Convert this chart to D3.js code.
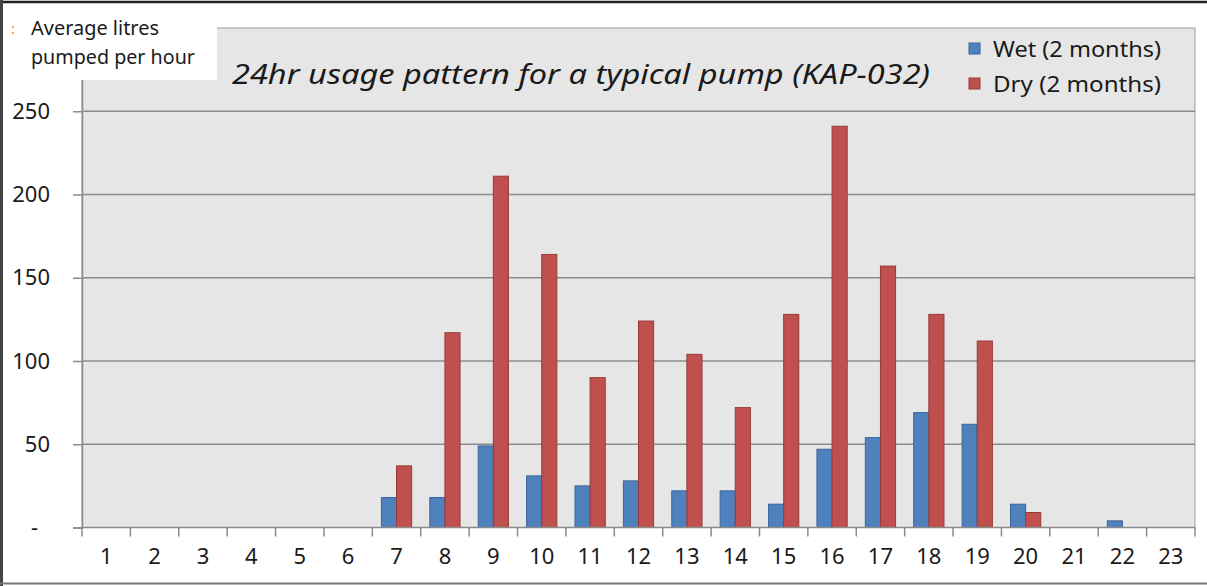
<!DOCTYPE html>
<html>
<head>
<meta charset="utf-8">
<script src="https://cdnjs.cloudflare.com/ajax/libs/d3/7.8.5/d3.min.js"></script>
<style>
  body { margin: 0; background: #fff; }
  svg { display: block; font-family: "Noto Sans", "Open Sans", sans-serif; }
</style>
</head>
<body>
<svg width="1207" height="586"></svg>
<script>
// hours of the day
var hours = ["1","2","3","4","5","6","7","8","9","10","11","12","13","14","15","16","17","18","19","20","21","22","23"];
// average litres pumped per hour
var wet = [0,0,0,0,0,0,18,18,49,31,25,28,22,22,14,47,54,69,62,14,0,4,0];
var dry = [0,0,0,0,0,0,37,117,211,164,90,124,104,72,128,241,157,128,112,9,0,0,0];
var seriesNames = ["Wet (2 months)", "Dry (2 months)"];
var seriesColors = ["#4F81BD", "#C0504D"];
var seriesBorders = ["#3A659A", "#943B39"];
var yTicks = [0, 50, 100, 150, 200, 250];

var svg = d3.select("svg"),
    pl = 82, pr = 1195, pt = 28, pb = 527.5;

var x0 = d3.scaleBand().domain(hours).range([pl, pr]).padding(0);
var bw = x0.bandwidth();
var gap = bw * 0.6 / 1.6; // excel style gap width 60%
var x1 = d3.scaleBand().domain([0, 1]).range([gap / 2, bw - gap / 2]).padding(0);
var y = d3.scaleLinear().domain([0, 300]).range([pb, pt]);

// plot background
svg.append("rect")
    .attr("x", pl).attr("y", pt)
    .attr("width", pr - pl).attr("height", pb - pt)
    .attr("fill", "#E6E6E6")
    .attr("stroke", "#9a9a9a").attr("stroke-width", 1);

// gridlines + y axis
var yAxis = d3.axisLeft(y).tickValues(yTicks).tickSize(9).tickPadding(23)
    .tickFormat(function(d) { return d === 0 ? "-" : d; });
var gy = svg.append("g").attr("transform", "translate(" + pl + ",0)").call(yAxis);
gy.select(".domain").attr("stroke", "#8a8a8a").attr("stroke-width", 1.5);
gy.selectAll(".tick line").attr("stroke", "#8a8a8a").attr("stroke-width", 1.5);
gy.selectAll(".tick text").attr("font-size", 22).attr("fill", "#1a1a1a")
    .attr("font-family", "'Noto Sans', sans-serif")
    .attr("dx", function(d) { return d === 0 ? -12 : 0; });

svg.append("g").selectAll("line")
    .data(yTicks.filter(function(d) { return d > 0; }))
    .join("line")
    .attr("x1", pl).attr("x2", pr)
    .attr("y1", function(d) { return y(d); }).attr("y2", function(d) { return y(d); })
    .attr("stroke", "#8c8c8c").attr("stroke-width", 1.6);

// bars
var data = [wet, dry];
var groups = svg.append("g").selectAll("g")
    .data(hours)
    .join("g")
    .attr("transform", function(d) { return "translate(" + x0(d) + ",0)"; });
groups.selectAll("rect")
    .data(function(d, i) { return [0, 1].map(function(s) { return {s: s, v: data[s][i]}; }); })
    .join("rect")
    .filter(function(d) { return d.v > 0; })
    .attr("x", function(d) { return x1(d.s); })
    .attr("y", function(d) { return y(d.v); })
    .attr("width", x1.bandwidth())
    .attr("height", function(d) { return pb - y(d.v); })
    .attr("fill", function(d) { return seriesColors[d.s]; })
    .attr("stroke", function(d) { return seriesBorders[d.s]; })
    .attr("stroke-width", 1);

// x axis
var gx = svg.append("g").attr("transform", "translate(0," + pb + ")");
gx.append("line").attr("x1", pl).attr("x2", pr).attr("stroke", "#8a8a8a").attr("stroke-width", 1.5);
var bounds = hours.map(function(h) { return x0(h); }).concat([pr]);
gx.selectAll(".xt").data(bounds).join("line")
    .attr("class", "xt")
    .attr("x1", function(d) { return d; }).attr("x2", function(d) { return d; })
    .attr("y1", 0).attr("y2", 9)
    .attr("stroke", "#8a8a8a").attr("stroke-width", 1.5);
gx.selectAll("text").data(hours).join("text")
    .attr("x", function(d) { return x0(d) + bw / 2; })
    .attr("y", 36)
    .attr("text-anchor", "middle")
    .attr("font-size", 22).attr("fill", "#1a1a1a")
    .text(function(d) { return d; });

// title
svg.append("text")
    .attr("x", 232).attr("y", 84)
    .attr("font-size", 28).attr("font-style", "italic").attr("fill", "#1a1a1a")
    .attr("textLength", 698).attr("lengthAdjust", "spacingAndGlyphs")
    .text("24hr usage pattern for a typical pump (KAP-032)");

// legend
var lg = svg.append("g");
seriesNames.forEach(function(name, i) {
    lg.append("rect")
        .attr("x", 969).attr("y", 43 + i * 35)
        .attr("width", 11).attr("height", 11)
        .attr("fill", seriesColors[i]).attr("stroke", seriesBorders[i]);
    lg.append("text")
        .attr("x", 993).attr("y", 57 + i * 35)
        .attr("font-size", 22).attr("fill", "#1a1a1a")
        .attr("textLength", 168).attr("lengthAdjust", "spacingAndGlyphs")
        .text(name);
});

// unit label box over the corner
svg.append("rect").attr("x", 0).attr("y", 0).attr("width", 217).attr("height", 80).attr("fill", "#fff");
svg.append("text").attr("x", 11).attr("y", 34).attr("font-size", 14).attr("fill", "#e08a3c").text(":");
svg.append("text").attr("x", 31).attr("y", 35).attr("font-size", 19).attr("fill", "#1a1a1a")
    .attr("textLength", 128).attr("lengthAdjust", "spacingAndGlyphs").text("Average litres");
svg.append("text").attr("x", 31).attr("y", 64).attr("font-size", 19).attr("fill", "#1a1a1a")
    .attr("textLength", 164).attr("lengthAdjust", "spacingAndGlyphs").text("pumped  per hour");

// outer frame
svg.append("line").attr("x1", 0).attr("x2", 1207).attr("y1", 2).attr("y2", 2).attr("stroke", "#222").attr("stroke-width", 2.5);
svg.append("line").attr("x1", 1.5).attr("x2", 1.5).attr("y1", 0).attr("y2", 586).attr("stroke", "#444").attr("stroke-width", 3);
svg.append("line").attr("x1", 0).attr("x2", 1207).attr("y1", 583.5).attr("y2", 583.5).attr("stroke", "#777").attr("stroke-width", 2);
</script>
</body>
</html>
